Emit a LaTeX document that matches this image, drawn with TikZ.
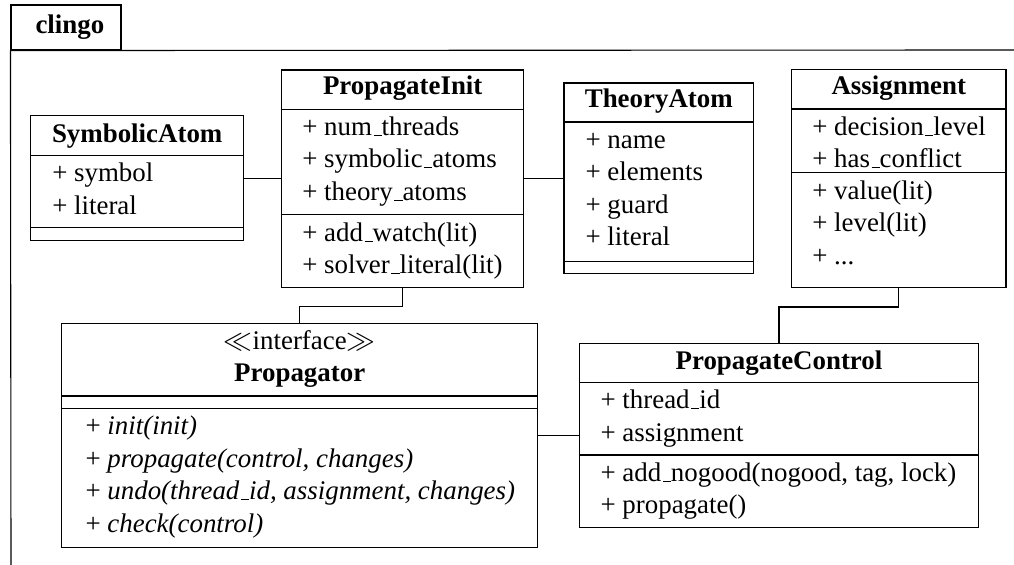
\documentclass[tikz,border=0pt]{standalone}
\usepackage{fontspec}
\setmainfont{Liberation Serif}
\usetikzlibrary{fit}
\newcommand{\us}{\leavevmode\kern.06em\vbox{\hrule width.3em}}
\begin{document}
\begin{tikzpicture}[x=0.5pt,y=-0.5pt,line width=0.55pt,
  every node/.style={font=\fontsize{13.45}{16}\selectfont},
  box/.style={draw, inner sep=0pt},
  attr/.style={inner sep=0pt, anchor=base west},
  ttl/.style={inner sep=0pt, anchor=base, font=\fontsize{13.45}{16}\selectfont\bfseries},
  conn/.style={line width=0.55pt}]
\useasboundingbox (0,0) rectangle (1014,565);
% package
\node[box, fit={(11,5) (121,50)}] (tab) {};
\node[attr, font=\fontsize{13.45}{16}\selectfont\bfseries] (pkgname) at (35,33.3) {clingo};
\coordinate (pkgR) at (1014,50);
\coordinate (pkgB) at (11,565);
\draw (tab.south west) -- (pkgR);
\draw (tab.south west) -- (pkgB);

% SymbolicAtom
\node[box, fit={(30.7,115.7) (243.7,240.7)}] (sa) {};
\draw (sa.west |- 0,155.3) -- (sa.east |- 0,155.3);
\draw (sa.west |- 0,227.7) -- (sa.east |- 0,227.7);
\node[ttl] (saT) at (137.2,143) {SymbolicAtom};
\node[attr] (sa1) at (51.7,181.8) {+ symbol};
\node[attr] (sa2) at (51.7,214.3) {+ literal};

% PropagateInit
\node[box, fit={(281.7,70) (523.7,287.7)}] (pi) {};
\draw (pi.west |- 0,109.3) -- (pi.east |- 0,109.3);
\draw (pi.west |- 0,214.7) -- (pi.east |- 0,214.7);
\node[ttl] (piT) at (402.7,95) {PropagateInit};
\node[attr] (pi1) at (301.7,135.5) {+ num\us threads};
\node[attr] (pi2) at (301.7,168) {+ symbolic\us atoms};
\node[attr] (pi3) at (301.7,200.5) {+ theory\us atoms};
\node[attr] (pi4) at (301.7,241.5) {+ add\us watch(lit)};
\node[attr] (pi5) at (301.7,274) {+ solver\us literal(lit)};

% TheoryAtom
\node[box, fit={(564,83) (753.7,273.7)}] (ta) {};
\draw (ta.west |- 0,122) -- (ta.east |- 0,122);
\draw (ta.west |- 0,261.7) -- (ta.east |- 0,261.7);
\node[ttl] (taT) at (658.8,108) {TheoryAtom};
\node[attr] (ta1) at (585,148.5) {+ name};
\node[attr] (ta2) at (585,181) {+ elements};
\node[attr] (ta3) at (585,213.5) {+ guard};
\node[attr] (ta4) at (585,246) {+ literal};

% Assignment
\node[box, fit={(791.7,69.3) (1006,287.7)}] (as) {};
\draw (as.west |- 0,109) -- (as.east |- 0,109);
\draw (as.west |- 0,172.7) -- (as.east |- 0,172.7);
\node[ttl] (asT) at (898.8,95) {Assignment};
\node[attr] (as1) at (811.7,135.5) {+ decision\us level};
\node[attr] (as2) at (811.7,168) {+ has\us conflict};
\node[attr] (as3) at (811.7,199.2) {+ value(lit)};
\node[attr] (as4) at (811.7,231.7) {+ level(lit)};
\node[attr] (as5) at (811.7,264.2) {+ ...};

% Propagator
\node[box, fit={(61.7,323.3) (537.7,547.3)}] (pr) {};
\draw (pr.west |- 0,396) -- (pr.east |- 0,396);
\draw (pr.west |- 0,408.3) -- (pr.east |- 0,408.3);
\node[inner sep=0pt, anchor=base] (prS) at (299.7,350) {$\ll$interface$\gg$};
\node[ttl] (prT) at (299.7,381.7) {Propagator};
\node[attr] (pr1) at (85,435) {+ \textit{init(init)}};
\node[attr] (pr2) at (85,467.5) {+ \textit{propagate(control, changes)}};
\node[attr] (pr3) at (85,500) {+ \textit{undo(thread\us id, assignment, changes)}};
\node[attr] (pr4) at (85,532.5) {+ \textit{check(control)}};

% PropagateControl
\node[box, fit={(579.3,343.3) (978.7,527.7)}] (pc) {};
\draw (pc.west |- 0,382.3) -- (pc.east |- 0,382.3);
\draw (pc.west |- 0,455) -- (pc.east |- 0,455);
\node[ttl] (pcT) at (779,370) {PropagateControl};
\node[attr] (pc1) at (600,408.8) {+ thread\us id};
\node[attr] (pc2) at (600,441.3) {+ assignment};
\node[attr] (pc3) at (600,481.5) {+ add\us nogood(nogood, tag, lock)};
\node[attr] (pc4) at (600,514) {+ propagate()};

% connectors
\draw[conn] (sa.east) -- (sa.east -| pi.west);
\draw[conn] (pi.east) -- (pi.east -| ta.west);
\coordinate (m1) at (0,306.7);
\draw[conn] (pi.south) -- (pi.south |- m1) -| (pr.north);
\coordinate (m2) at (0,307);
\draw[conn] (as.south) -- (as.south |- m2) -| (pc.north);
\draw[conn] (pr.east) -- (pr.east -| pc.west);
\end{tikzpicture}
\end{document}
